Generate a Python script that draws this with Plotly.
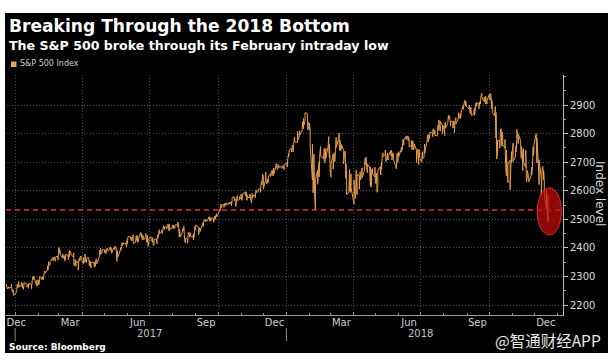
import pandas as pd
import plotly.graph_objects as go

# ------------------------------------------------------------------ data
# US market holidays inside the span (no trading)
holidays = ["2016-12-26", "2017-01-02", "2017-01-16", "2017-02-20", "2017-04-14",
            "2017-05-29", "2017-07-04", "2017-09-04", "2017-11-23", "2017-12-25",
            "2018-01-01", "2018-01-15", "2018-02-19", "2018-03-30", "2018-05-28",
            "2018-07-04", "2018-09-03", "2018-11-22", "2018-12-05"]
first_day = "2016-12-20"
last_day = "2018-12-19"

# daily intraday lows / highs of the S&P 500 Index
lows_2016 = [2266.8, 2263.3, 2256.1, 2258.8, 2263.0, 2249.1, 2244.6, 2233.6]
highs_2016 = [2272.6, 2271.2, 2263.2, 2263.9, 2273.8, 2271.3, 2254.5, 2253.6]

lows_2017 = [
    # Jan
    2245.1, 2261.6, 2260.4, 2264.1, 2268.0, 2265.3, 2260.8, 2254.3, 2270.3, 2262.8,
    2263.3, 2258.4, 2266.0, 2257.0, 2266.2, 2288.3, 2294.1, 2292.4, 2267.2, 2267.2,
    # Feb
    2271.7, 2271.3, 2289.4, 2288.3, 2290.2, 2288.9, 2295.9, 2311.1, 2321.4, 2321.2,
    2334.6, 2338.9, 2339.6, 2355.1, 2358.0, 2354.3, 2352.9, 2358.5, 2358.2,
    # Mar
    2380.1, 2380.2, 2375.9, 2364.0, 2365.1, 2362.3, 2354.5, 2364.6, 2368.6, 2358.8,
    2368.6, 2375.9, 2377.6, 2368.5, 2342.9, 2336.7, 2340.9, 2335.7, 2322.3, 2335.8,
    2353.8, 2358.4, 2362.1,
    # Apr
    2344.2, 2350.7, 2350.5, 2351.5, 2348.4, 2350.3, 2337.3, 2344.5, 2329.0, 2332.5,
    2332.2, 2335.4, 2340.9, 2344.0, 2365.2, 2374.4, 2386.0, 2379.8, 2382.4,
    # May
    2384.5, 2382.4, 2379.3, 2380.7, 2389.6, 2393.6, 2392.4, 2390.7, 2381.1, 2387.2,
    2393.6, 2396.1, 2356.2, 2352.7, 2367.4, 2386.9, 2390.8, 2396.9, 2408.0, 2409.0,
    2407.7, 2403.6,
    # Jun
    2413.3, 2425.0, 2434.1, 2428.3, 2424.4, 2425.9, 2415.7, 2418.5, 2428.6, 2425.3,
    2419.4, 2422.9, 2443.4, 2437.0, 2428.7, 2430.0, 2428.1, 2436.8, 2418.7, 2424.2,
    2405.7, 2422.1,
    # Jul
    2426.1, 2419.3, 2407.7, 2412.0, 2422.0, 2413.8, 2433.2, 2440.3, 2449.3, 2456.1,
    2450.3, 2464.2, 2467.0, 2465.1, 2466.3, 2473.3, 2472.9, 2459.9, 2464.0, 2469.1,
    # Aug
    2471.7, 2467.5, 2468.6, 2469.7, 2474.8, 2472.1, 2459.8, 2437.8, 2437.8, 2454.8,
    2459.4, 2461.4, 2430.0, 2417.4, 2416.0, 2433.7, 2437.6, 2436.9, 2442.2, 2437.0,
    2428.2, 2443.0, 2460.3,
    # Sep
    2471.1, 2446.6, 2458.7, 2457.3, 2459.4, 2474.5, 2486.5, 2492.1, 2491.9, 2492.4,
    2499.9, 2503.4, 2492.9, 2495.1, 2496.3, 2488.9, 2495.5, 2498.9, 2501.0, 2508.0,
    # Oct
    2521.2, 2528.9, 2531.7, 2538.6, 2541.5, 2541.6, 2543.8, 2547.9, 2547.9, 2552.1,
    2553.8, 2552.6, 2557.4, 2547.9, 2565.6, 2564.6, 2566.4, 2544.4, 2559.4, 2566.2,
    2568.4, 2572.2,
    # Nov
    2576.5, 2566.2, 2577.3, 2583.5, 2583.0, 2582.2, 2566.3, 2576.2, 2576.3, 2566.2,
    2557.5, 2574.0, 2577.8, 2574.9, 2587.7, 2593.4, 2597.0, 2594.4, 2605.4, 2620.3,
    2633.9,
    # Dec
    2605.5, 2639.4, 2624.8, 2624.4, 2627.0, 2640.5, 2650.1, 2659.6, 2662.4, 2651.5,
    2657.2, 2687.1, 2680.7, 2673.6, 2682.4, 2679.7, 2678.0, 2678.0, 2685.6, 2673.6,
]
highs_2017 = [
    # Jan
    2263.9, 2272.8, 2271.5, 2282.1, 2275.5, 2279.3, 2275.3, 2271.8, 2278.7, 2272.1,
    2272.1, 2274.3, 2277.0, 2271.8, 2284.6, 2299.6, 2301.0, 2299.0, 2286.0, 2281.3,
    # Feb
    2289.1, 2283.0, 2298.3, 2296.2, 2299.4, 2295.9, 2311.1, 2319.2, 2331.6, 2337.6,
    2351.3, 2348.0, 2351.2, 2366.7, 2365.1, 2368.3, 2367.3, 2371.5, 2367.8,
    # Mar
    2401.0, 2394.8, 2383.9, 2378.8, 2375.1, 2373.3, 2369.1, 2376.9, 2374.4, 2368.6,
    2390.0, 2388.7, 2385.7, 2378.8, 2381.9, 2351.8, 2358.9, 2356.2, 2344.9, 2363.8,
    2363.4, 2370.4, 2370.4,
    # Apr
    2365.9, 2360.5, 2378.4, 2364.2, 2363.8, 2366.4, 2355.2, 2352.9, 2348.3, 2349.1,
    2348.4, 2352.6, 2361.4, 2356.2, 2377.0, 2392.1, 2398.2, 2392.0, 2392.4,
    # May
    2394.5, 2392.9, 2390.7, 2391.4, 2399.3, 2401.4, 2403.9, 2399.7, 2395.5, 2392.4,
    2404.0, 2405.8, 2400.6, 2375.7, 2390.0, 2395.5, 2400.8, 2405.6, 2418.7, 2416.0,
    2415.3, 2416.0,
    # Jun
    2430.1, 2440.2, 2439.0, 2436.2, 2435.3, 2439.3, 2446.2, 2430.5, 2441.5, 2443.8,
    2434.0, 2433.2, 2453.8, 2450.4, 2443.0, 2441.6, 2441.0, 2450.4, 2440.2, 2443.2,
    2442.4, 2432.9,
    # Jul
    2439.2, 2436.0, 2424.3, 2428.4, 2432.3, 2429.3, 2445.8, 2449.3, 2463.5, 2462.8,
    2460.9, 2473.8, 2477.6, 2472.5, 2473.1, 2481.2, 2481.7, 2484.0, 2472.6, 2478.0,
    # Aug
    2478.5, 2480.4, 2476.9, 2480.0, 2480.9, 2490.9, 2474.4, 2465.0, 2448.1, 2468.2,
    2468.6, 2474.9, 2465.0, 2434.0, 2430.6, 2454.0, 2448.9, 2454.1, 2451.0, 2448.3,
    2449.2, 2459.2, 2475.0,
    # Sep
    2480.4, 2472.0, 2469.6, 2468.6, 2467.1, 2489.0, 2496.7, 2498.4, 2498.4, 2500.2,
    2508.3, 2507.8, 2508.9, 2507.1, 2503.5, 2503.5, 2503.5, 2511.8, 2510.8, 2519.4,
    # Oct
    2529.2, 2535.1, 2540.5, 2552.5, 2550.0, 2551.8, 2555.2, 2555.2, 2555.2, 2557.7,
    2559.7, 2559.7, 2562.1, 2562.4, 2575.4, 2578.3, 2572.2, 2567.4, 2569.2, 2583.0,
    2580.0, 2578.3,
    # Nov
    2588.4, 2584.0, 2588.4, 2593.4, 2597.0, 2594.4, 2586.5, 2583.0, 2587.7, 2579.7,
    2572.8, 2590.1, 2584.0, 2584.6, 2601.2, 2600.9, 2604.2, 2606.4, 2627.7, 2634.9,
    2657.7,
    # Dec
    2650.6, 2665.2, 2648.7, 2634.4, 2641.0, 2651.6, 2660.3, 2669.7, 2671.9, 2669.1,
    2679.6, 2695.0, 2694.1, 2691.0, 2692.6, 2685.4, 2682.7, 2685.6, 2687.7, 2692.1,
]

lows_2018 = [
    # Jan
    2682.4, 2697.8, 2719.1, 2727.9, 2736.1, 2747.9, 2736.1, 2752.8, 2770.6, 2769.6,
    2778.4, 2788.3, 2795.1, 2808.1, 2832.4, 2816.1, 2830.9, 2846.2, 2850.2, 2813.0,
    2818.3,
    # Feb
    2813.0, 2759.1, 2638.2, 2593.1, 2681.3, 2580.6, 2532.7, 2622.4, 2634.4, 2648.5,
    2689.8, 2723.0, 2710.7, 2699.8, 2697.8, 2713.7, 2753.4, 2744.1, 2713.7,
    # Mar
    2659.7, 2647.3, 2675.8, 2715.6, 2701.0, 2723.9, 2751.5, 2779.9, 2758.2, 2740.5,
    2741.0, 2747.8, 2694.6, 2710.1, 2710.1, 2643.6, 2585.9, 2596.1, 2601.8, 2593.9,
    2610.8,
    # Apr
    2553.8, 2586.3, 2573.6, 2649.3, 2586.3, 2605.2, 2627.0, 2638.3, 2645.3, 2645.8,
    2669.6, 2691.0, 2701.9, 2681.9, 2662.8, 2657.7, 2617.3, 2612.7, 2647.6, 2659.1,
    2648.0,
    # May
    2625.4, 2633.3, 2594.6, 2615.3, 2669.7, 2655.2, 2674.1, 2705.8, 2719.5, 2727.2,
    2701.9, 2712.2, 2711.2, 2707.4, 2725.4, 2721.9, 2707.4, 2708.0, 2709.5, 2676.8,
    2699.1, 2700.7,
    # Jun
    2718.7, 2740.8, 2736.7, 2749.2, 2760.0, 2760.6, 2778.3, 2779.4, 2775.4, 2774.7,
    2754.1, 2757.1, 2743.2, 2763.3, 2742.9, 2750.0, 2698.7, 2712.1, 2699.4, 2692.0,
    2716.6,
    # Jul
    2699.0, 2711.3, 2716.1, 2731.1, 2770.7, 2786.8, 2770.8, 2781.5, 2793.4, 2795.1,
    2789.1, 2807.2, 2796.4, 2793.5, 2791.6, 2814.1, 2811.1, 2832.4, 2808.6, 2799.1,
    2806.0,
    # Aug
    2805.9, 2793.1, 2818.8, 2835.2, 2853.3, 2851.7, 2851.5, 2825.8, 2819.2, 2826.6,
    2802.5, 2831.4, 2833.7, 2851.0, 2855.6, 2854.8, 2853.0, 2862.0, 2884.7, 2893.6,
    2898.4, 2895.9, 2895.2,
    # Sep
    2884.8, 2872.9, 2869.3, 2864.1, 2868.4, 2863.5, 2879.2, 2896.5, 2896.4, 2886.9,
    2890.7, 2903.8, 2911.6, 2926.7, 2912.4, 2913.6, 2903.3, 2909.1, 2903.8,
    # Oct
    2919.8, 2917.3, 2918.4, 2886.9, 2874.0, 2862.1, 2873.2, 2784.9, 2710.5, 2729.4,
    2749.0, 2768.5, 2781.8, 2755.9, 2760.3, 2749.0, 2691.4, 2651.9, 2674.0, 2628.2,
    2603.5, 2631.6, 2698.7,
    # Nov
    2709.6, 2701.9, 2717.9, 2735.5, 2774.0, 2796.6, 2765.0, 2722.0, 2713.8, 2685.8,
    2670.8, 2700.4, 2681.1, 2631.1, 2647.5, 2631.5, 2649.8, 2655.9, 2684.4, 2722.9,
    2732.8,
    # Dec
    2766.4, 2697.2, 2621.5, 2621.3, 2583.2, 2622.1, 2650.2, 2637.8, 2593.6, 2530.5,
    2535.9, 2489.0,
]
highs_2018 = [
    # Jan
    2695.9, 2714.4, 2729.3, 2743.5, 2748.5, 2759.1, 2750.8, 2767.6, 2787.9, 2807.5,
    2807.0, 2805.8, 2810.3, 2833.0, 2842.2, 2853.0, 2848.6, 2872.9, 2870.6, 2837.8,
    2839.3,
    # Feb
    2836.0, 2808.9, 2763.4, 2701.0, 2727.7, 2685.3, 2638.7, 2672.6, 2666.0, 2702.1,
    2731.5, 2754.4, 2737.6, 2747.8, 2731.3, 2747.8, 2780.0, 2789.2, 2761.5,
    # Mar
    2730.9, 2692.4, 2728.1, 2732.1, 2727.3, 2740.5, 2786.6, 2797.0, 2801.9, 2777.1,
    2763.0, 2761.9, 2741.4, 2724.2, 2739.1, 2695.7, 2651.0, 2661.4, 2674.8, 2632.7,
    2659.1,
    # Apr
    2638.3, 2619.1, 2649.9, 2672.1, 2656.9, 2653.6, 2665.5, 2661.4, 2674.4, 2680.3,
    2686.5, 2713.3, 2717.5, 2702.8, 2693.9, 2682.9, 2683.6, 2645.8, 2676.5, 2677.4,
    2682.9,
    # May
    2655.3, 2660.9, 2637.9, 2670.9, 2683.4, 2676.3, 2701.3, 2726.1, 2732.9, 2742.1,
    2718.6, 2727.8, 2732.0, 2719.5, 2739.2, 2742.2, 2733.3, 2732.0, 2727.4, 2710.7,
    2731.3, 2725.5,
    # Jun
    2736.9, 2749.2, 2752.6, 2772.4, 2779.9, 2779.4, 2790.2, 2789.8, 2791.5, 2789.1,
    2782.8, 2775.0, 2763.9, 2774.9, 2769.3, 2764.2, 2742.9, 2732.9, 2746.1, 2725.9,
    2743.3,
    # Jul
    2727.3, 2736.6, 2737.8, 2763.5, 2784.7, 2795.6, 2785.9, 2799.2, 2804.5, 2803.9,
    2814.2, 2816.8, 2812.1, 2810.9, 2808.6, 2829.0, 2848.0, 2843.2, 2843.2, 2829.9,
    2824.5,
    # Aug
    2825.8, 2829.9, 2840.4, 2853.3, 2863.4, 2862.4, 2862.4, 2842.2, 2843.4, 2843.2,
    2827.9, 2850.5, 2855.6, 2859.8, 2873.2, 2867.5, 2868.8, 2876.2, 2898.3, 2903.8,
    2916.5, 2912.5, 2906.3,
    # Sep
    2900.2, 2894.2, 2892.7, 2883.8, 2886.9, 2889.7, 2894.7, 2906.8, 2908.3, 2904.7,
    2911.2, 2912.4, 2934.8, 2940.9, 2927.2, 2923.8, 2931.2, 2927.1, 2916.2,
    # Oct
    2937.1, 2931.4, 2939.9, 2919.4, 2909.6, 2894.0, 2894.5, 2874.0, 2795.1, 2775.8,
    2776.0, 2813.5, 2816.9, 2806.0, 2797.8, 2778.9, 2753.6, 2742.6, 2722.7, 2692.4,
    2706.9, 2685.4, 2736.7,
    # Nov
    2741.7, 2766.3, 2744.3, 2756.8, 2815.1, 2814.8, 2797.6, 2776.0, 2754.6, 2746.8,
    2735.4, 2746.8, 2741.4, 2670.7, 2670.8, 2647.6, 2674.4, 2682.5, 2744.0, 2753.8,
    2760.9,
    # Dec
    2800.2, 2785.9, 2696.2, 2708.5, 2642.3, 2674.4, 2685.4, 2670.2, 2634.9, 2601.1,
    2574.0, 2585.3,
]

feb_intraday_low = 2532.69          # Feb 9 2018 intraday low (dashed line)
circle_dates = ["2018-12-04 12:00", "2019-01-06 00:00"]
circle_levels = [2445, 2610]

y_ticks = [2200, 2300, 2400, 2500, 2600, 2700, 2800, 2900]
month_labels = ["Dec", "Mar", "Jun", "Sep", "Dec", "Mar", "Jun", "Sep", "Dec"]
month_label_dates = ["2017-01-02 12:00", "2017-03-16", "2017-06-15", "2017-09-15",
                     "2017-12-16", "2018-03-16", "2018-06-15", "2018-09-15", "2018-12-16"]
year_labels = ["2017", "2018"]
year_label_dates = ["2017-07-01", "2018-07-01"]
year_starts = ["2017-01-01", "2018-01-01"]
x_range = ["2016-12-19 18:00", "2019-01-08 03:00"]

# ------------------------------------------------------------------ build
lows = lows_2016 + lows_2017 + lows_2018
highs = highs_2016 + highs_2017 + highs_2018
days = [d for d in pd.bdate_range(first_day, last_day) if d.strftime("%Y-%m-%d") not in holidays]
n = min(len(days), len(lows), len(highs))

xs, ys = [], []
for i in range(n):
    xs += [days[i], days[i]]
    ys += [lows[i], highs[i]] if i % 2 == 0 else [highs[i], lows[i]]

quarter_starts = list(pd.date_range("2017-01-01", "2018-12-31", freq="QS"))
month_starts = list(pd.date_range("2016-12-01", "2019-01-01", freq="MS"))

W, H = 613, 360
L, R, T, B = 6, 563, 75, 315


def px(x):
    return (x - L) / (R - L)


def py(y):
    return (B - y) / (B - T)


FONT = "DejaVu Sans"
ORANGE = "#e29e4b"
GRID = "#4d4d4d"

fig = go.Figure()
fig.add_trace(go.Scatter(x=xs, y=ys, mode="lines", line=dict(color=ORANGE, width=1),
                         hoverinfo="skip", showlegend=False))
# helper trace so the label axis exists
fig.add_trace(go.Scatter(x=[days[0]], y=[lows[0]], xaxis="x2", mode="markers",
                         marker=dict(opacity=0), hoverinfo="skip", showlegend=False))

shapes = [
    # black frame of the whole graphic
    dict(type="rect", xref="paper", yref="paper", x0=px(5), x1=px(608), y0=py(353), y1=py(13),
         fillcolor="black", line=dict(width=0), layer="below"),
    # Feb low
    dict(type="line", xref="paper", yref="y", x0=0, x1=1, y0=feb_intraday_low, y1=feb_intraday_low,
         line=dict(color="#e3312e", width=1.5, dash="5px,4px"), layer="above"),
    # highlight
    dict(type="circle", xref="x", yref="y", x0=circle_dates[0], x1=circle_dates[1],
         y0=circle_levels[0], y1=circle_levels[1], fillcolor="rgba(195,12,12,0.72)",
         line=dict(color="rgba(235,45,45,0.9)", width=1), layer="above"),
    # legend square
    dict(type="rect", xref="paper", yref="paper", x0=px(11), x1=px(16.5), y0=py(67), y1=py(61.5),
         fillcolor="#f5a443", line=dict(width=0)),
]
for ys_ in year_starts:
    shapes.append(dict(type="line", xref="x", yref="paper", x0=ys_, x1=ys_, y0=py(328), y1=py(341),
                       line=dict(color="#8a8a8a", width=1)))

annotations = [
    dict(text="<b>Breaking Through the 2018 Bottom</b>", x=px(7), y=py(26), xref="paper", yref="paper",
         xanchor="left", yanchor="middle", showarrow=False, font=dict(family=FONT, size=17.1, color="white")),
    dict(text="<b>The S&P 500 broke through its February intraday low</b>", x=px(7), y=py(45.5),
         xref="paper", yref="paper", xanchor="left", yanchor="middle", showarrow=False,
         font=dict(family=FONT, size=12.6, color="white")),
    dict(text="S&P 500 Index", x=px(17.5), y=py(64), xref="paper", yref="paper", xanchor="left",
         yanchor="middle", showarrow=False, font=dict(family=FONT, size=8.0, color="#cfcfcf")),
    dict(text="Index level", x=px(600), y=py(193), xref="paper", yref="paper", xanchor="center",
         yanchor="middle", textangle=90, showarrow=False, font=dict(family=FONT, size=12, color="#d8d8d8")),
    dict(text="<b>Source: Bloomberg</b>", x=px(7), y=py(347), xref="paper", yref="paper", xanchor="left",
         yanchor="middle", showarrow=False, font=dict(family=FONT, size=9, color="white")),
    dict(text="@智通财经APP", x=px(603), y=py(340), xref="paper", yref="paper", xanchor="right",
         yanchor="middle", showarrow=False, font=dict(family="Noto Sans CJK SC", size=15.5, color="#e6e6e6")),
]
for lab, d in zip(year_labels, year_label_dates):
    annotations.append(dict(text=lab, x=d, y=py(333), xref="x", yref="paper", xanchor="center",
                            yanchor="middle", showarrow=False, font=dict(family=FONT, size=10, color="#c4c4c4")))

fig.update_layout(
    width=W, height=H,
    margin=dict(l=L, r=W - R, t=T, b=H - B, pad=0, autoexpand=False),
    paper_bgcolor="white", plot_bgcolor="black",
    showlegend=False,
    shapes=shapes, annotations=annotations,
    xaxis=dict(type="date", range=x_range, tickmode="array", tickvals=quarter_starts,
               showticklabels=False, ticks="inside", ticklen=3, tickcolor="#9a9a9a",
               showgrid=True, gridcolor=GRID, griddash="1px,2px", gridwidth=1,
               showline=True, linecolor="#9a9a9a", linewidth=1, zeroline=False,
               minor=dict(tickmode="array", tickvals=month_starts, ticks="inside", ticklen=2,
                          tickcolor="#9a9a9a", showgrid=False)),
    xaxis2=dict(type="date", range=x_range, overlaying="x", anchor="y", side="bottom",
                tickmode="array", tickvals=month_label_dates, ticktext=month_labels,
                ticks="", showgrid=False, showline=False, zeroline=False,
                tickfont=dict(family=FONT, size=10, color="#cfcfcf")),
    yaxis=dict(side="right", range=[2165, 3005], tickmode="array", tickvals=y_ticks,
               ticks="outside", ticklen=4, tickcolor="#bdbdbd",
               showgrid=True, gridcolor=GRID, griddash="1px,2px", gridwidth=1,
               showline=True, linecolor="#bdbdbd", linewidth=1, zeroline=False,
               tickfont=dict(family=FONT, size=10, color="#dedede"),
               minor=dict(dtick=50, tick0=2150, ticks="outside", ticklen=2, tickcolor="#9a9a9a",
                          showgrid=False)),
)

fig.write_html("out.html", config={"displayModeBar": False},
               post_script="document.body.style.margin='0px';document.body.style.padding='0px';")
